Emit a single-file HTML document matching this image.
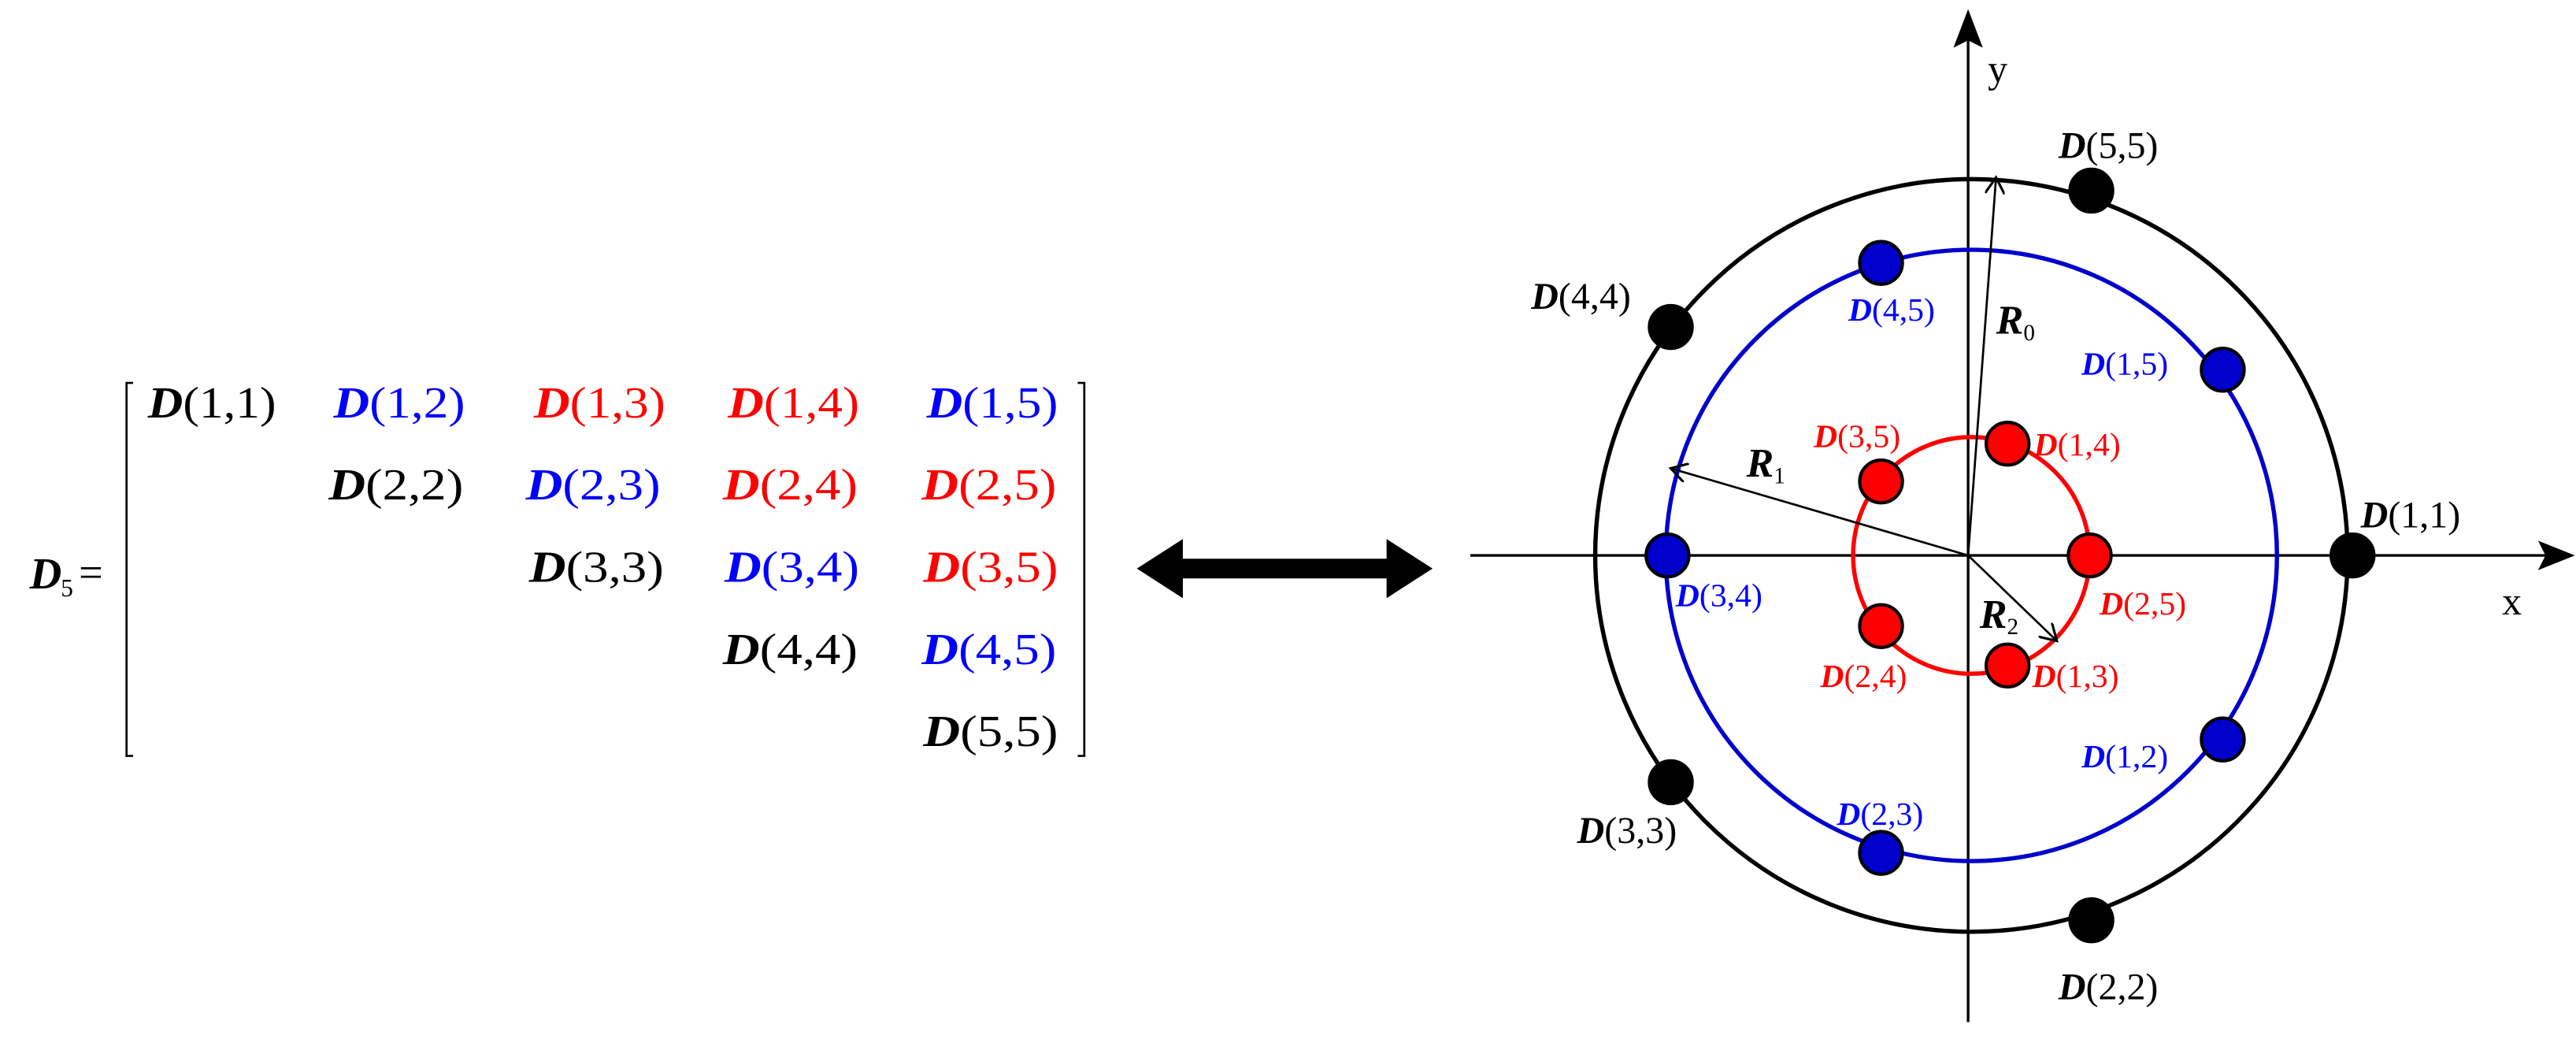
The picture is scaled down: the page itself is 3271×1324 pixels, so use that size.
<!DOCTYPE html>
<html><head><meta charset="utf-8"><style>
html,body{margin:0;padding:0;background:#fff;}
svg{display:block;}
text{font-family:"Liberation Serif",serif;}
.d{font-style:italic;font-weight:bold;}
</style></head><body>
<svg width="3271" height="1324" viewBox="0 0 1568 634.7" xmlns="http://www.w3.org/2000/svg">
<defs>
<marker id="ah" markerWidth="12" markerHeight="12" refX="10" refY="6" orient="auto" markerUnits="userSpaceOnUse">
<path d="M0,0 L10,6 L0,12" fill="none" stroke="#000" stroke-width="1.5"/>
</marker>
</defs>
<!-- matrix -->
<g font-size="27">
<text x="18" y="358" class="d">D</text>
<text x="37" y="363" font-size="15">5</text>
<text x="48" y="357" font-size="26">=</text>
<path d="M81,233 H77 V460 H81 M656,233 H660 V460 H656" fill="none" stroke="#000" stroke-width="1.3"/>
<g>
<text x="90" y="254" textLength="78" lengthAdjust="spacingAndGlyphs"><tspan class="d">D</tspan>(1,1)</text>
<text x="203" y="254" fill="#00f" textLength="80" lengthAdjust="spacingAndGlyphs"><tspan class="d">D</tspan>(1,2)</text>
<text x="325" y="254" fill="#f00" textLength="80" lengthAdjust="spacingAndGlyphs"><tspan class="d">D</tspan>(1,3)</text>
<text x="443" y="254" fill="#f00" textLength="80" lengthAdjust="spacingAndGlyphs"><tspan class="d">D</tspan>(1,4)</text>
<text x="564" y="254" fill="#00f" textLength="80" lengthAdjust="spacingAndGlyphs"><tspan class="d">D</tspan>(1,5)</text>
<text x="200" y="304" textLength="82" lengthAdjust="spacingAndGlyphs"><tspan class="d">D</tspan>(2,2)</text>
<text x="320" y="304" fill="#00f" textLength="82" lengthAdjust="spacingAndGlyphs"><tspan class="d">D</tspan>(2,3)</text>
<text x="440" y="304" fill="#f00" textLength="82" lengthAdjust="spacingAndGlyphs"><tspan class="d">D</tspan>(2,4)</text>
<text x="561" y="304" fill="#f00" textLength="82" lengthAdjust="spacingAndGlyphs"><tspan class="d">D</tspan>(2,5)</text>
<text x="322" y="354" textLength="82" lengthAdjust="spacingAndGlyphs"><tspan class="d">D</tspan>(3,3)</text>
<text x="441" y="354" fill="#00f" textLength="82" lengthAdjust="spacingAndGlyphs"><tspan class="d">D</tspan>(3,4)</text>
<text x="562" y="354" fill="#f00" textLength="82" lengthAdjust="spacingAndGlyphs"><tspan class="d">D</tspan>(3,5)</text>
<text x="440" y="404" textLength="82" lengthAdjust="spacingAndGlyphs"><tspan class="d">D</tspan>(4,4)</text>
<text x="561" y="404" fill="#00f" textLength="82" lengthAdjust="spacingAndGlyphs"><tspan class="d">D</tspan>(4,5)</text>
<text x="562" y="454" textLength="82" lengthAdjust="spacingAndGlyphs"><tspan class="d">D</tspan>(5,5)</text>
</g>
</g>
<!-- double arrow -->
<path d="M692,346 L720,328 L720,340 L844,340 L844,328 L872,346 L844,364 L844,352 L720,352 L720,364 Z" fill="#000"/>
<!-- axes -->
<line x1="895" y1="338" x2="1552" y2="338" stroke="#000" stroke-width="1.6"/>
<path d="M1566,338 L1546,330 L1550,338 L1546,346 Z" fill="#000" stroke="#000" stroke-width="1"/>
<line x1="1198" y1="622" x2="1198" y2="22" stroke="#000" stroke-width="1.6"/>
<path d="M1198,7 L1190,28 L1198,24 L1206,28 Z" fill="#000" stroke="#000" stroke-width="1"/>
<text x="1523" y="374" font-size="24">x</text>
<text x="1210" y="50" font-size="24">y</text>
<!-- circles -->
<circle cx="1200" cy="338" r="229" fill="none" stroke="#000" stroke-width="2.6"/>
<circle cx="1200" cy="338" r="186" fill="none" stroke="#0000cc" stroke-width="2.6"/>
<circle cx="1200" cy="338" r="72" fill="none" stroke="#f00" stroke-width="2.6"/>
<!-- radii -->
<line x1="1198" y1="338" x2="1215" y2="108" stroke="#000" stroke-width="1.3" marker-end="url(#ah)"/>
<line x1="1198" y1="338" x2="1017" y2="285" stroke="#000" stroke-width="1.3" marker-end="url(#ah)"/>
<line x1="1198" y1="338" x2="1252" y2="390" stroke="#000" stroke-width="1.3" marker-end="url(#ah)"/>
<text x="1215" y="203" font-size="25"><tspan class="d">R</tspan><tspan font-size="14" dy="4">0</tspan></text>
<text x="1063" y="290" font-size="25"><tspan class="d">R</tspan><tspan font-size="14" dy="4">1</tspan></text>
<text x="1205" y="382" font-size="25"><tspan class="d">R</tspan><tspan font-size="14" dy="4">2</tspan></text>
<!-- dots -->
<g stroke="#000" stroke-width="2">
<circle cx="1273" cy="116" r="13" fill="#000"/>
<circle cx="1017" cy="199" r="13" fill="#000"/>
<circle cx="1432" cy="338" r="13" fill="#000"/>
<circle cx="1017" cy="476" r="13" fill="#000"/>
<circle cx="1273" cy="560" r="13" fill="#000"/>
<circle cx="1145" cy="160" r="13" fill="#0000cc"/>
<circle cx="1353" cy="225" r="13" fill="#0000cc"/>
<circle cx="1015" cy="338" r="13" fill="#0000cc"/>
<circle cx="1353" cy="450" r="13" fill="#0000cc"/>
<circle cx="1145" cy="519" r="13" fill="#0000cc"/>
<circle cx="1222" cy="270" r="13" fill="#f00"/>
<circle cx="1145" cy="293" r="13" fill="#f00"/>
<circle cx="1272" cy="338" r="13" fill="#f00"/>
<circle cx="1145" cy="381" r="13" fill="#f00"/>
<circle cx="1222" cy="405" r="13" fill="#f00"/>
</g>
<!-- labels -->
<g font-size="23">
<text x="1253" y="96"><tspan class="d">D</tspan>(5,5)</text>
<text x="932" y="188"><tspan class="d">D</tspan>(4,4)</text>
<text x="1437" y="321"><tspan class="d">D</tspan>(1,1)</text>
<text x="960" y="513"><tspan class="d">D</tspan>(3,3)</text>
<text x="1253" y="608"><tspan class="d">D</tspan>(2,2)</text>
</g>
<g font-size="20" fill="#00f">
<text x="1125" y="195"><tspan class="d">D</tspan>(4,5)</text>
<text x="1267" y="228"><tspan class="d">D</tspan>(1,5)</text>
<text x="1020" y="369"><tspan class="d">D</tspan>(3,4)</text>
<text x="1267" y="467"><tspan class="d">D</tspan>(1,2)</text>
<text x="1118" y="502"><tspan class="d">D</tspan>(2,3)</text>
</g>
<g font-size="20" fill="#f00">
<text x="1104" y="272"><tspan class="d">D</tspan>(3,5)</text>
<text x="1238" y="277"><tspan class="d">D</tspan>(1,4)</text>
<text x="1278" y="374"><tspan class="d">D</tspan>(2,5)</text>
<text x="1108" y="418"><tspan class="d">D</tspan>(2,4)</text>
<text x="1237" y="418"><tspan class="d">D</tspan>(1,3)</text>
</g>
</svg>
</body></html>
